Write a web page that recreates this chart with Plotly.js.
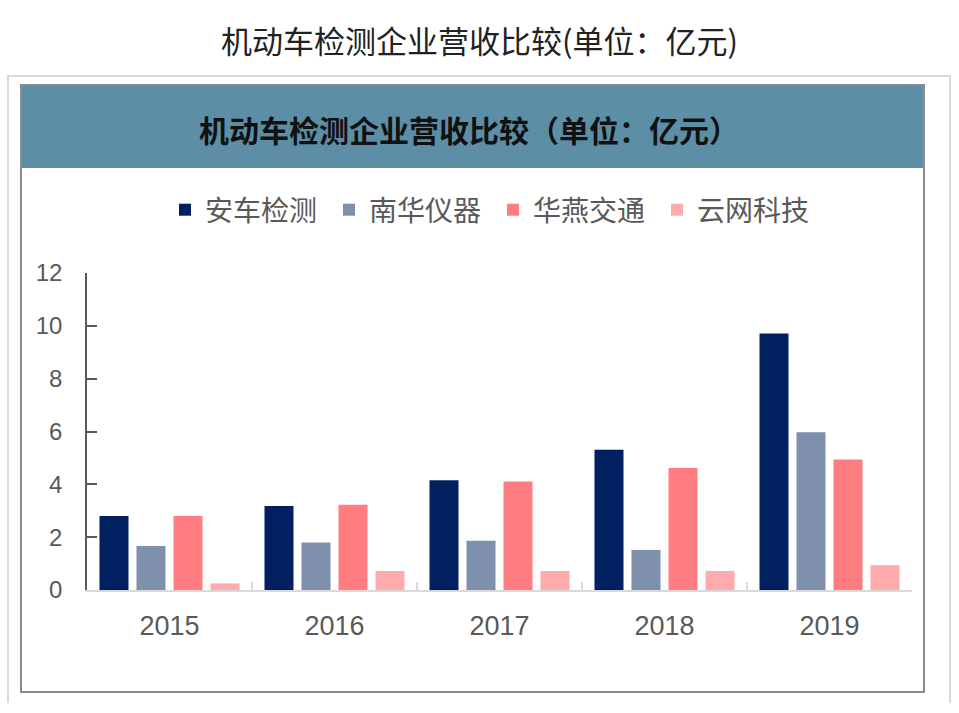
<!DOCTYPE html>
<html>
<head>
<meta charset="utf-8">
<script src="https://cdn.plot.ly/plotly-3.0.1.min.js"></script>
<style>
html,body{margin:0;padding:0;background:#fff;}
#chart{width:959px;height:713px;}
</style>
</head>
<body>
<div id="chart"></div>
<script>
var years = ['2015', '2016', '2017', '2018', '2019'];
var seriesNames = ['安车检测', '南华仪器', '华燕交通', '云网科技'];
var anche = [2.80, 3.18, 4.15, 5.31, 9.71];
var nanhua = [1.67, 1.80, 1.86, 1.51, 5.97];
var huayan = [2.80, 3.23, 4.11, 4.62, 4.94];
var yunwang = [0.25, 0.72, 0.72, 0.72, 0.94];
var yTicks = [0, 2, 4, 6, 8, 10, 12];
var colors = ['#002060', '#7f90ad', '#ff7c80', '#ffabae'];

var W = 959, H = 713;
var L = 87, R = 47, T = 273, B = 123;
var pw = W - L - R, ph = H - T - B;
function xp(px) { return (px - L) / pw; }
function yp(py) { return (H - B - py) / ph; }

var values = [anche, nanhua, huayan, yunwang];
var traces = values.map(function (v, i) {
  return {
    type: 'bar', x: years, y: v, name: seriesNames[i],
    marker: {color: colors[i], line: {width: 0}},
    hoverinfo: 'x+y+name'
  };
});

var fontFam = 'Liberation Sans, Arial, Noto Sans CJK SC, sans-serif';
var cjk = 'Noto Sans CJK SC, sans-serif';

var layout = {
  width: W, height: H,
  margin: {l: L, r: R, t: T, b: B, pad: 0},
  paper_bgcolor: '#ffffff', plot_bgcolor: 'rgba(0,0,0,0)',
  barmode: 'group', bargap: 0.103, bargroupgap: 0.216,
  showlegend: true,
  legend: {
    orientation: 'h', x: xp(165), xanchor: 'left', y: yp(210), yanchor: 'middle',
    font: {family: cjk, size: 28, color: '#595959'},
    entrywidth: 119, entrywidthmode: 'pixels', bgcolor: 'rgba(0,0,0,0)',
    traceorder: 'normal'
  },
  xaxis: {
    type: 'category', range: [-0.5, 4.5], showgrid: false, zeroline: false,
    showline: true, linecolor: '#d9d9d9', linewidth: 1.5,
    ticks: 'inside', tickson: 'boundaries', ticklen: 8, tickwidth: 1.5, tickcolor: '#d9d9d9',
    tickfont: {family: fontFam, size: 27, color: '#595959'},
    ticklabelstandoff: 11, fixedrange: true
  },
  yaxis: {
    range: [0, 12], tickvals: yTicks, ticktext: yTicks.map(String),
    showgrid: false, zeroline: false,
    showline: true, linecolor: '#595959', linewidth: 1.5,
    ticks: 'inside', ticklen: 10, tickwidth: 1.5, tickcolor: '#595959',
    tickfont: {family: fontFam, size: 24, color: '#595959'},
    ticklabelstandoff: 18, fixedrange: true
  },
  shapes: [
    {type: 'path', xref: 'paper', yref: 'paper', layer: 'below',
     path: 'M' + xp(8) + ',' + yp(703) + ' L' + xp(8) + ',' + yp(76) + ' L' + xp(950) + ',' + yp(76) + ' L' + xp(950) + ',' + yp(703),
     line: {color: '#d9d9d9', width: 2}},
    {type: 'rect', xref: 'paper', yref: 'paper', layer: 'below',
     x0: xp(21), x1: xp(924), y0: yp(168), y1: yp(85),
     fillcolor: '#5c8fa6', line: {width: 0}},
    {type: 'rect', xref: 'paper', yref: 'paper', layer: 'below',
     x0: xp(21), x1: xp(924), y0: yp(692), y1: yp(85),
     fillcolor: 'rgba(0,0,0,0)', line: {color: '#8c8c8c', width: 2}}
  ],
  annotations: [
    {xref: 'paper', yref: 'paper', x: xp(479), y: yp(40), xanchor: 'center', yanchor: 'middle',
     text: '机动车检测企业营收比较(单位：亿元)', showarrow: false,
     font: {family: cjk, size: 31, color: '#222222'}},
    {xref: 'paper', yref: 'paper', x: xp(469), y: yp(129), xanchor: 'center', yanchor: 'middle',
     text: '<b>机动车检测企业营收比较（单位：亿元）</b>', showarrow: false,
     font: {family: cjk, size: 30, color: '#111111'}}
  ]
};

Plotly.newPlot('chart', traces, layout, {displayModeBar: false});
</script>
</body>
</html>
